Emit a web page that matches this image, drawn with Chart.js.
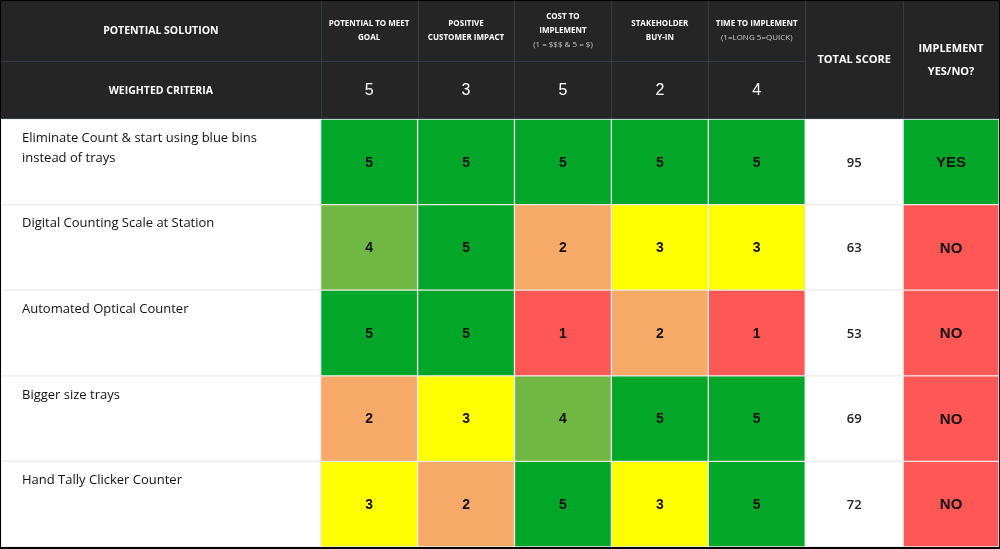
<!DOCTYPE html>
<html lang="en">
<head>
<meta charset="UTF-8">
<title>Potential Solution Matrix</title>
<script src="https://cdn.jsdelivr.net/npm/chart.js"></script>
<style>
  html, body { margin: 0; padding: 0; background: #000; }
  #wrap { position: absolute; left: 1px; top: 1px; width: 998px; height: 546px; background: #fff; }
</style>
</head>
<body>
<div id="wrap"><canvas id="matriz"></canvas></div>
<script>
// data
const solutions = [
    'Eliminate Count & start using blue bins instead of trays',
    'Digital Counting Scale at Station',
    'Automated Optical Counter',
    'Bigger size trays',
    'Hand Tally Clicker Counter'
];
const criteria = [
    ['POTENTIAL TO MEET', 'GOAL'],
    ['POSITIVE', 'CUSTOMER IMPACT'],
    ['COST TO', 'IMPLEMENT'],
    ['STAKEHOLDER', 'BUY-IN'],
    ['TIME TO IMPLEMENT']
];
const criteriaNotes = ['', '', '(1 = $$$ & 5 = $)', '', '(1=LONG 5=QUICK)'];
const weights = [5, 3, 5, 2, 4];
const goalScores = [5, 4, 5, 2, 3];
const customerScores = [5, 5, 5, 3, 2];
const costScores = [5, 2, 1, 4, 5];
const buyInScores = [5, 3, 2, 5, 3];
const timeScores = [5, 3, 1, 5, 5];
const totalScores = [95, 63, 53, 69, 72];
const implement = ['YES', 'NO', 'NO', 'NO', 'NO'];

// layout
const colWidths = [320, 97, 97, 97, 97, 97, 98, 96];
const headerHeight = 118;
const scoreColors = { 5: '#02a629', 4: '#71b744', 3: '#ffff00', 2: '#f7a967', 1: '#ff5656' };
const implColors = { YES: '#02a629', NO: '#ff5656' };

const edges = [0];
colWidths.forEach(w => edges.push(edges[edges.length - 1] + w));

const scoreCols = [goalScores, customerScores, costScores, buyInScores, timeScores];
const columns = [{ kind: 'label' }]
    .concat(scoreCols.map(v => ({ kind: 'score', values: v })))
    .concat([{ kind: 'total', values: totalScores }, { kind: 'impl', values: implement }]);

const datasets = columns.map((col, j) => {
    let colors;
    if (col.kind === 'score') colors = col.values.map(v => scoreColors[v]);
    else if (col.kind === 'impl') colors = col.values.map(v => implColors[v]);
    else colors = solutions.map(() => '#ffffff');
    return {
        data: solutions.map(() => [edges[j], edges[j + 1]]),
        backgroundColor: colors,
        borderColor: '#ebebeb',
        borderWidth: 1,
        borderSkipped: false,
        barPercentage: 1,
        categoryPercentage: 1
    };
});

function wrapLines(ctx, text, maxWidth) {
    const words = text.split(' ');
    const lines = [];
    let line = '';
    words.forEach(w => {
        const test = line ? line + ' ' + w : w;
        if (ctx.measureText(test).width > maxWidth && line) {
            lines.push(line);
            line = w;
        } else {
            line = test;
        }
    });
    if (line) lines.push(line);
    return lines;
}

const headerPlugin = {
    id: 'header',
    beforeDatasetsDraw(chart) {
        const ctx = chart.ctx;
        const x = chart.scales.x;
        const top = chart.chartArea.top;
        const px = edges.map(e => x.getPixelForValue(e));
        const mid = 60;
        ctx.save();
        ctx.fillStyle = '#252525';
        ctx.fillRect(0, 0, chart.width, top);
        ctx.strokeStyle = '#353b4b';
        ctx.lineWidth = 1;
        ctx.beginPath();
        for (let j = 1; j < px.length - 1; j++) {
            ctx.moveTo(Math.round(px[j]) + 0.5, 0);
            ctx.lineTo(Math.round(px[j]) + 0.5, top);
        }
        ctx.moveTo(0, mid + 0.5);
        ctx.lineTo(px[6], mid + 0.5);
        ctx.moveTo(0, top - 0.5);
        ctx.lineTo(chart.width, top - 0.5);
        ctx.stroke();

        ctx.fillStyle = '#ffffff';
        ctx.textAlign = 'center';
        ctx.textBaseline = 'middle';
        ctx.font = 'bold 10.5px "Open Sans"';
        ctx.fillText('POTENTIAL SOLUTION', (px[0] + px[1]) / 2, 30);
        ctx.fillText('WEIGHTED CRITERIA', (px[0] + px[1]) / 2, 90);

        criteria.forEach((lines, k) => {
            const cx = (px[k + 1] + px[k + 2]) / 2;
            const all = lines.slice();
            if (criteriaNotes[k]) all.push(criteriaNotes[k]);
            const step = 14;
            const y0 = 30 - (all.length - 1) * step / 2;
            all.forEach((ln, i) => {
                if (i >= lines.length) {
                    ctx.font = '8px "Open Sans"';
                    ctx.fillStyle = '#c8c8c8';
                } else {
                    ctx.font = 'bold 8px "Open Sans"';
                    ctx.fillStyle = '#ffffff';
                }
                ctx.fillText(ln, cx, y0 + i * step);
            });
            ctx.fillStyle = '#ffffff';
            ctx.font = '16px "Liberation Sans"';
            ctx.fillText(String(weights[k]), cx, 90);
        });

        ctx.font = 'bold 11px "Open Sans"';
        ctx.fillText('TOTAL SCORE', (px[6] + px[7]) / 2, 59);
        ctx.fillText('IMPLEMENT', (px[7] + px[8]) / 2, 48);
        ctx.fillText('YES/NO?', (px[7] + px[8]) / 2, 71);
        ctx.restore();
    },
    afterDatasetsDraw(chart) {
        const ctx = chart.ctx;
        ctx.save();
        columns.forEach((col, j) => {
            const meta = chart.getDatasetMeta(j);
            meta.data.forEach((bar, i) => {
                const left = Math.min(bar.x, bar.base);
                const right = Math.max(bar.x, bar.base);
                const cx = (left + right) / 2;
                const rowTop = bar.y - bar.height / 2;
                ctx.fillStyle = '#111111';
                ctx.textBaseline = 'middle';
                if (col.kind === 'label') {
                    ctx.textAlign = 'left';
                    ctx.font = '13px "Open Sans"';
                    const lines = wrapLines(ctx, solutions[i], 260);
                    lines.forEach((ln, k) => ctx.fillText(ln, left + 21, rowTop + 19 + k * 20));
                } else if (col.kind === 'score') {
                    ctx.textAlign = 'center';
                    ctx.font = 'bold 14px "Liberation Sans"';
                    ctx.fillText(String(col.values[i]), cx, bar.y + 1);
                } else if (col.kind === 'total') {
                    ctx.textAlign = 'center';
                    ctx.font = '600 13px "Open Sans"';
                    ctx.fillStyle = '#222222';
                    ctx.fillText(String(col.values[i]), cx, bar.y + 1);
                } else {
                    ctx.textAlign = 'center';
                    ctx.font = 'bold 15px "Liberation Sans"';
                    ctx.fillText(col.values[i], cx, bar.y + 1);
                }
            });
        });
        ctx.restore();
    }
};

new Chart(document.getElementById('matriz'), {
    type: 'bar',
    data: { labels: solutions, datasets: datasets },
    options: {
        indexAxis: 'y',
        responsive: true,
        maintainAspectRatio: false,
        animation: false,
        layout: { padding: { top: headerHeight, left: 0, right: 0, bottom: 0 } },
        plugins: { legend: { display: false }, tooltip: { enabled: false } },
        scales: {
            x: { type: 'linear', min: 0, max: edges[edges.length - 1], display: false, grid: { display: false } },
            y: { type: 'category', stacked: false, display: false, offset: true, grid: { display: false } }
        },
        datasets: { bar: { grouped: false } }
    },
    plugins: [headerPlugin]
});
</script>
</body>
</html>
